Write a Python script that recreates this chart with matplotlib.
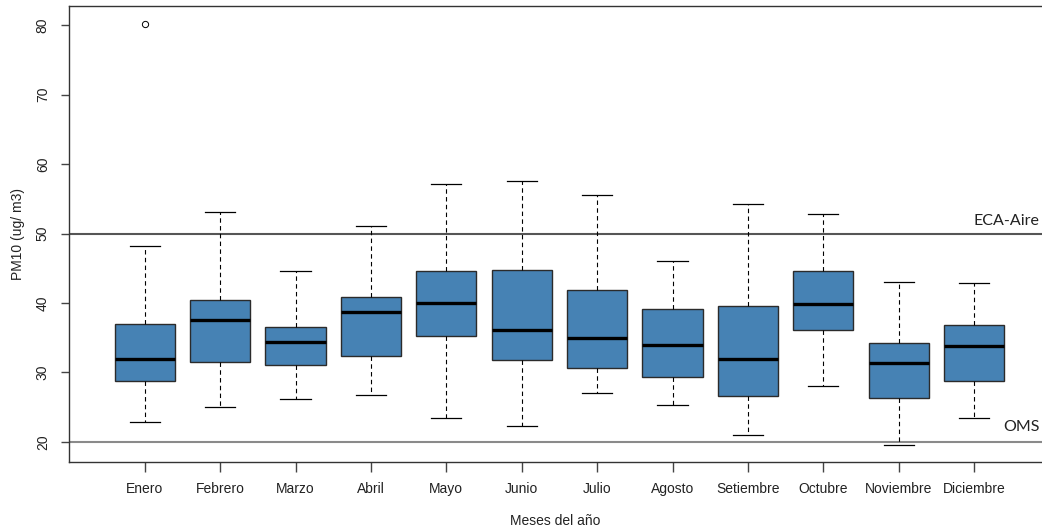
import matplotlib
matplotlib.use("Agg")
import matplotlib.pyplot as plt

meses = ['Enero', 'Febrero', 'Marzo', 'Abril', 'Mayo', 'Junio', 'Julio',
         'Agosto', 'Setiembre', 'Octubre', 'Noviembre', 'Diciembre']

whis_low = [22.9, 25.0, 26.1, 26.7, 23.4, 22.3, 27.1, 25.3, 21.0, 28.0, 19.5, 23.5]
q1 = [28.8, 31.5, 31.0, 32.3, 35.3, 31.8, 30.7, 29.3, 26.6, 36.1, 26.3, 28.7]
mediana = [31.9, 37.5, 34.4, 38.7, 40.0, 36.1, 35.0, 33.9, 31.9, 39.9, 31.3, 33.8]
q3 = [37.0, 40.5, 36.5, 40.9, 44.6, 44.7, 41.8, 39.1, 39.5, 44.6, 34.2, 36.8]
whis_high = [48.2, 53.1, 44.6, 51.1, 57.1, 57.6, 55.6, 46.0, 54.3, 52.8, 43.0, 42.9]
atipicos = [[80.2], [], [], [], [], [], [], [], [], [], [], []]

eca_aire = 50
oms = 20

stats = []
for i in range(len(meses)):
    stats.append({'label': meses[i], 'whislo': whis_low[i], 'q1': q1[i],
                  'med': mediana[i], 'q3': q3[i], 'whishi': whis_high[i],
                  'fliers': atipicos[i]})

fig = plt.figure(figsize=(10.42, 5.30), dpi=100)
ax = fig.add_axes([0.0665, 0.1275, 0.9335, 0.861])

ax.bxp(stats, positions=range(1, 13), widths=0.8, capwidths=0.4,
       patch_artist=True,
       boxprops=dict(facecolor='#4682B4', edgecolor='#2b2b2b', linewidth=1.0),
       medianprops=dict(color='black', linewidth=2.4),
       whiskerprops=dict(color='black', linestyle=(0, (4, 3)), linewidth=0.8),
       capprops=dict(color='black', linewidth=0.9),
       flierprops=dict(marker='o', markersize=4.5, markerfacecolor='none',
                       markeredgecolor='black', markeredgewidth=0.7))

ax.axhline(eca_aire, color='#555555', linewidth=1.5, zorder=1)
ax.axhline(oms, color='#8a8a8a', linewidth=1.5, zorder=1)
ax.text(12.87, 51.2, 'ECA-Aire', ha='right', va='baseline', fontsize=11.5,
        family='Lato', color='#222222')
ax.text(12.87, 21.6, 'OMS', ha='right', va='baseline', fontsize=11.5,
        family='Lato', color='#222222')

ax.set_xlim(0, 12.9)
ax.set_ylim(17.03, 82.77)
ax.set_yticks([20, 30, 40, 50, 60, 70, 80])
ax.set_xticks(range(1, 13))
ax.set_xticklabels(meses, fontsize=10, family='Liberation Sans', color='#222222')
for lab in ax.get_yticklabels():
    lab.set_rotation(90)
    lab.set_va('center')
    lab.set_fontsize(10)
    lab.set_family('Liberation Sans')
    lab.set_color('#222222')
ax.tick_params(axis='x', length=7, width=1, color='#444444', pad=7)
ax.tick_params(axis='y', length=6, width=1, color='#444444', pad=8)

ax.spines['right'].set_visible(False)
for s in ['left', 'top', 'bottom']:
    ax.spines[s].set_color('#333333')
    ax.spines[s].set_linewidth(1.0)

ax.set_xlabel('Meses del año', fontsize=10, family='Liberation Sans',
              color='#222222', labelpad=13)
ax.set_ylabel('PM10 (ug/ m3)', fontsize=10, family='Liberation Sans',
              color='#222222', labelpad=8)

fig.savefig('out.png', dpi=100)
